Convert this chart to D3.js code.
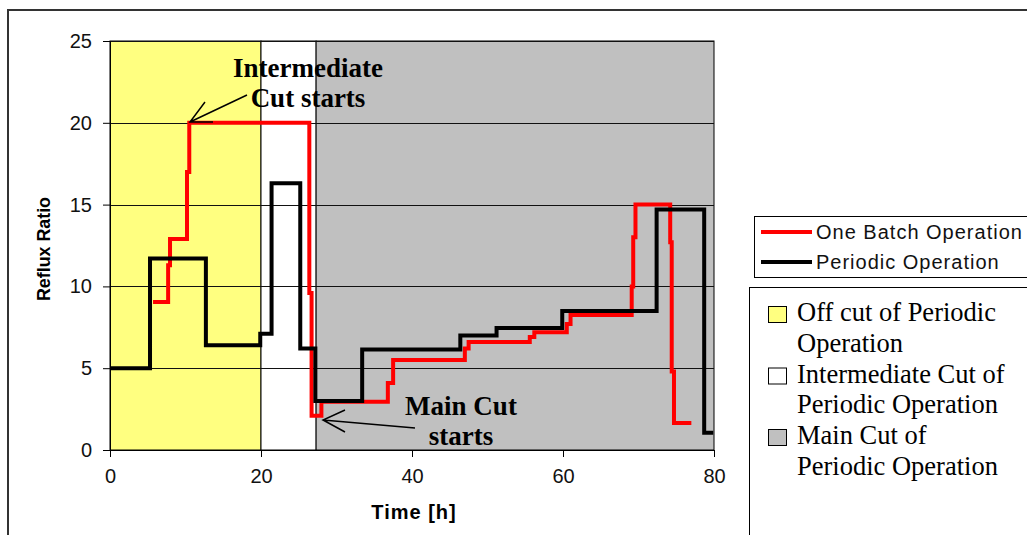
<!DOCTYPE html>
<html>
<head>
<meta charset="utf-8">
<script src="https://cdn.jsdelivr.net/npm/d3@7"></script>
<style>
  body { margin: 0; background: #fff; }
  svg { display: block; }
  .tick text { font-family: "Liberation Sans", Arial, sans-serif; }
</style>
</head>
<body>
<svg id="chart" width="1027" height="535"></svg>
<script>
// data
var timeTicks = [0, 20, 40, 60, 80];
var ratioTicks = [0, 5, 10, 15, 20, 25];

// cut regions of the periodic operation (start/end in h)
var regionNames = ["Off cut of Periodic Operation", "Intermediate Cut of Periodic Operation", "Main Cut of Periodic Operation"];
var regionStart = [0, 20, 27.3];
var regionEnd = [20, 27.3, 80];

// One Batch Operation (step after)
var batchTime  = [5.7, 7.7, 7.95, 10.2, 10.5, 26.4, 26.7, 28.0, 36.8, 37.5, 47.0, 47.5, 55.6, 56.2, 60.5, 61.0, 69.1, 69.3, 69.6, 74.2, 74.4, 74.7, 77.0];
var batchRatio = [9.05, 11.3, 12.9, 17.0, 20, 9.6, 2.1, 2.95, 4.1, 5.5, 6.2, 6.6, 6.9, 7.2, 7.7, 8.25, 10.0, 13.0, 15.0, 12.7, 4.8, 1.65, 1.65];

// Periodic Operation (step after)
var periodicTime  = [0, 5.3, 12.7, 19.9, 21.4, 25.2, 27.2, 33.4, 46.4, 51.2, 59.9, 72.4, 78.7, 79.9];
var periodicRatio = [5.0, 11.7, 6.4, 7.1, 16.3, 6.2, 3.0, 6.15, 7.0, 7.45, 8.5, 14.7, 1.05, 1.05];

var seriesNames = ["One Batch Operation", "Periodic Operation"];

// styles
var regionColors = ["#ffff80", "#ffffff", "#c0c0c0"];
var seriesColors = ["#ff0000", "#000000"];

var svg = d3.select("#chart");

var x = d3.scaleLinear().domain([0, 80]).range([110, 714]);
var y = d3.scaleLinear().domain([0, 25]).range([450, 41]);

// outer frame
svg.append("path")
    .attr("d", "M8,535 L8,10 L1027,10")
    .attr("fill", "none")
    .attr("stroke", "#333")
    .attr("stroke-width", 2);

// region backgrounds
var regions = regionNames.map(function(n, i) {
    return { name: n, x0: regionStart[i], x1: regionEnd[i], color: regionColors[i] };
});
svg.append("g").selectAll("rect")
    .data(regions).enter()
    .append("rect")
    .attr("x", function(d) { return x(d.x0); })
    .attr("y", y(25))
    .attr("width", function(d) { return x(d.x1) - x(d.x0); })
    .attr("height", y(0) - y(25))
    .attr("fill", function(d) { return d.color; })
    .attr("stroke", "#000")
    .attr("stroke-width", 1);

// gridlines
svg.append("g").selectAll("line")
    .data(ratioTicks.filter(function(v) { return v > 0; })).enter()
    .append("line")
    .attr("x1", x(0)).attr("x2", x(80))
    .attr("y1", function(d) { return Math.round(y(d)) + 0.5; })
    .attr("y2", function(d) { return Math.round(y(d)) + 0.5; })
    .attr("stroke", "#111")
    .attr("stroke-width", 1);

// axes
var yAxis = svg.append("g")
    .attr("transform", "translate(" + x(0) + ",0)")
    .call(d3.axisLeft(y).tickValues(ratioTicks).tickSize(7).tickPadding(11).tickFormat(d3.format("d")));
var xAxis = svg.append("g")
    .attr("transform", "translate(0," + y(0) + ")")
    .call(d3.axisBottom(x).tickValues(timeTicks).tickSize(7).tickPadding(12).tickFormat(d3.format("d")));
[yAxis, xAxis].forEach(function(a) {
    a.selectAll("text").attr("font-size", 20).attr("fill", "#111");
    a.selectAll("line").attr("stroke", "#000");
    a.select(".domain").attr("stroke", "#000");
});

// axis titles
svg.append("text")
    .attr("x", 414).attr("y", 519)
    .attr("text-anchor", "middle")
    .attr("font-family", "Liberation Sans, Arial, sans-serif")
    .attr("font-weight", "bold")
    .attr("font-size", 20)
    .attr("letter-spacing", 1)
    .text("Time [h]");
svg.append("text")
    .attr("transform", "translate(50,249) rotate(-90)")
    .attr("text-anchor", "middle")
    .attr("font-family", "Liberation Sans, Arial, sans-serif")
    .attr("font-weight", "bold")
    .attr("font-size", 18)
    .attr("textLength", 104)
    .attr("lengthAdjust", "spacingAndGlyphs")
    .text("Reflux Ratio");

// step lines
var line = d3.line()
    .x(function(d) { return x(d[0]); })
    .y(function(d) { return y(d[1]); })
    .curve(d3.curveStepAfter);
var series = [
    d3.zip(batchTime, batchRatio),
    d3.zip(periodicTime, periodicRatio)
];
svg.append("g").selectAll("path")
    .data(series).enter()
    .append("path")
    .attr("d", line)
    .attr("fill", "none")
    .attr("stroke", function(d, i) { return seriesColors[i]; })
    .attr("stroke-width", 4)
    .attr("stroke-linejoin", "miter");

// annotations
function drawNote(lines, cx, y0, tip, from, head1, head2) {
    var t = svg.append("text")
        .attr("text-anchor", "middle")
        .attr("font-family", "Liberation Serif, Times New Roman, serif")
        .attr("font-weight", "bold")
        .attr("font-size", 27);
    lines.forEach(function(s, i) {
        t.append("tspan").attr("x", cx).attr("y", y0 + i * 30).text(s);
    });
    svg.append("path")
        .attr("d", "M" + from + " L" + tip + " M" + head1 + " L" + tip + " L" + head2)
        .attr("fill", "none")
        .attr("stroke", "#000")
        .attr("stroke-width", 1.5);
}
drawNote(["Intermediate", "Cut starts"], 308, 77, [190, 122], [247, 95], [205, 102], [213, 122]);
drawNote(["Main Cut", "starts"], 461, 415, [323, 420], [415, 428], [345, 410], [345, 432]);

// legend for the lines
var leg1 = svg.append("g");
leg1.append("rect")
    .attr("x", 754.5).attr("y", 216.5)
    .attr("width", 300).attr("height", 61)
    .attr("fill", "#fff").attr("stroke", "#000");
seriesNames.forEach(function(n, i) {
    var yy = 232 + i * 30;
    leg1.append("line")
        .attr("x1", 761).attr("x2", 812)
        .attr("y1", yy).attr("y2", yy)
        .attr("stroke", seriesColors[i]).attr("stroke-width", 4);
    leg1.append("text")
        .attr("x", 816).attr("y", yy + 7)
        .attr("font-family", "Liberation Sans, Arial, sans-serif")
        .attr("font-size", 20)
        .attr("letter-spacing", 1)
        .attr("fill", "#111")
        .text(n);
});

// legend for the regions
var leg2 = svg.append("g");
leg2.append("rect")
    .attr("x", 749.5).attr("y", 287.5)
    .attr("width", 300).attr("height", 300)
    .attr("fill", "#fff").attr("stroke", "#000");
regions.forEach(function(d, i) {
    var base = 321 + i * 61.5;
    leg2.append("rect")
        .attr("x", 768.5).attr("y", base - 14.5)
        .attr("width", 18).attr("height", 16)
        .attr("fill", d.color).attr("stroke", "#000");
    var words = d.name.split(" ");
    var first = i === 0 ? words.slice(0, 4).join(" ") : words.slice(0, words.length - 2).join(" ");
    var second = i === 0 ? words.slice(4).join(" ") : words.slice(words.length - 2).join(" ");
    var t = leg2.append("text")
        .attr("font-family", "Liberation Serif, Times New Roman, serif")
        .attr("font-size", 26.5);
    t.append("tspan").attr("x", 797).attr("y", base).text(first);
    t.append("tspan").attr("x", 797).attr("y", base + 30.8).text(second);
});
</script>
</body>
</html>
